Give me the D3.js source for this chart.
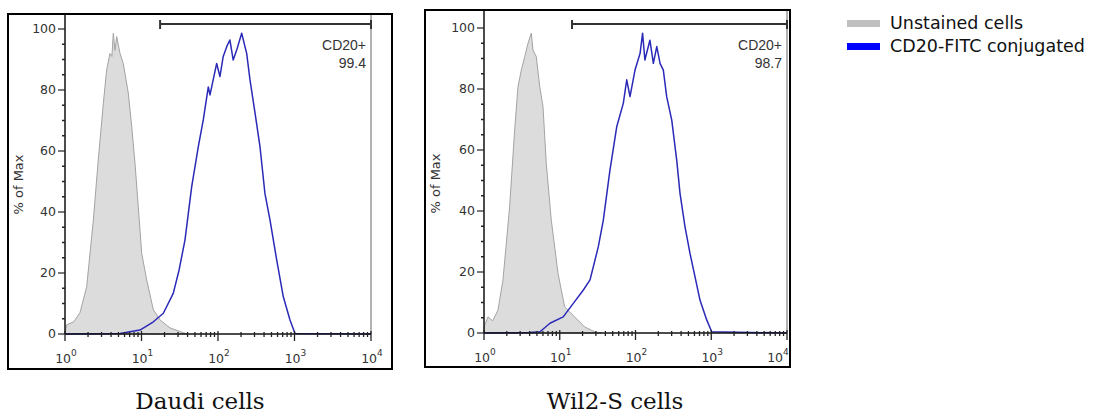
<!DOCTYPE html>
<html>
<head>
<meta charset="utf-8">
<script src="https://cdn.jsdelivr.net/npm/d3@7"></script>
<style>
  body { margin: 0; background: #fff; }
  svg { display: block; }
</style>
</head>
<body>
<div id="chart"></div>
<script>
// DATA (fluorescence intensity, % of max)
const daudiUnstained = [
  [1, 0], [1.05, 3], [1.3, 4], [1.57, 7], [1.92, 15.5], [2.34, 37], [2.72, 57], [3.17, 75.6],
  [3.5, 86.5], [3.87, 92], [4.1, 91], [4.28, 98.6], [4.5, 93], [4.74, 97.5], [5.24, 92],
  [5.78, 88.7], [6.72, 79], [7.45, 68], [8.22, 56], [9.08, 41.7], [10.06, 26.5],
  [11.7, 17.7], [14.3, 7.9], [17.5, 4.6], [23.6, 2], [31.9, 0.8], [40, 0]
];
const daudiCD20 = [
  [1, 0], [5.24, 0.2], [9.55, 1.3], [14.3, 4], [19.3, 6.8], [26, 13.3], [31, 21], [37, 30.8],
  [45.3, 48.3], [55.3, 61.4], [64.2, 70.2], [74.7, 81], [78.6, 78.4], [96.1, 88.7],
  [106, 84.4], [117, 91], [130, 94.2], [143, 96.4], [158, 89.8], [175, 93], [204, 98.6],
  [237, 92], [262, 83.3], [305, 72.4], [354, 61.4], [411, 46], [478, 37.4], [585, 24.3],
  [714, 12.2], [873, 4.6], [1016, 0.2], [10000, 0]
];
const wil2Unstained = [
  [1, 0], [1.02, 2.6], [1.13, 5.3], [1.3, 4], [1.53, 7.5], [1.78, 17.4], [2.18, 41.4],
  [2.54, 66.6], [2.81, 80.8], [3.11, 86.2], [3.45, 90.6], [3.81, 95], [4.21, 98.3],
  [4.43, 92.8], [4.9, 90.6], [5.44, 80.8], [6.01, 74.2], [6.64, 55.6], [7.73, 37],
  [9.48, 19.6], [11.6, 8.6], [15.7, 5.3], [21.3, 2], [28.9, 0.4], [35, 0]
];
const wil2CD20 = [
  [1, 0], [4, 0.2], [5.49, 0.4], [7.43, 3.2], [11.1, 5.3], [15.1, 9.7], [20.5, 14.1],
  [25.1, 17.4], [32.3, 28.3], [37.6, 37], [46, 53.4], [56.5, 67.6], [69, 75.3], [76.6, 83],
  [84.6, 77.5], [98.5, 86.2], [115, 91.7], [124, 98.3], [133, 89.5], [155, 96], [172, 88.4],
  [191, 93.9], [211, 88.4], [233, 86.2], [258, 77.5], [301, 69.8], [350, 56.7], [387, 45.8],
  [450, 34.9], [524, 26.1], [610, 18.5], [710, 10.8], [871, 4.3], [1014, 0.4], [10000, 0]
];

const panelTitles = ["Daudi cells", "Wil2-S cells"];
const gateNames = ["CD20+", "CD20+"];
const gateValues = ["99.4", "98.7"];
const gateStarts = [17.5, 14.5];
const xTickExps = [0, 1, 2, 3, 4];
const yTicks = [0, 20, 40, 60, 80, 100];
const legendLabels = ["Unstained cells", "CD20-FITC conjugated"];
const legendColors = ["#c0c0c0", "#0000ff"];

const unstainedSeries = [daudiUnstained, wil2Unstained];
const stainedSeries = [daudiCD20, wil2CD20];

// LAYOUT
const W = 1093, H = 413;
const layout = [
  { frame: [8, 14, 392, 369], left: 65, right: 371, top: 29, bottom: 334, titleX: 200 },
  { frame: [425, 10, 790, 367], left: 484, right: 787, top: 28, bottom: 333, titleX: 615 }
];

const svg = d3.select("#chart")
  .append("svg")
  .attr("width", W)
  .attr("height", H);

const tickFont = "DejaVu Sans, sans-serif";
const labelFont = "Liberation Sans, Arial, sans-serif";

layout.forEach((L, i) => {
  const g = svg.append("g");

  const x = d3.scaleLog()
    .domain([1, 10000])
    .range([L.left, L.right]);

  const y = d3.scaleLinear()
    .domain([0, 100])
    .range([L.bottom, L.top]);

  const [fx0, fy0, fx1, fy1] = L.frame;

  // right plot border (grey)
  g.append("line")
    .attr("x1", L.right).attr("x2", L.right)
    .attr("y1", fy0).attr("y2", L.bottom)
    .attr("stroke", "#999").attr("stroke-width", 1.5);

  // unstained (filled grey)
  g.append("path")
    .datum(unstainedSeries[i])
    .attr("fill", "#dcdcdc")
    .attr("stroke", "#a3a3a3")
    .attr("stroke-width", 1)
    .attr("d", d3.area()
      .x(d => x(d[0]))
      .y0(y(0))
      .y1(d => y(d[1]))
    );

  // stained (blue line)
  g.append("path")
    .datum(stainedSeries[i])
    .attr("fill", "none")
    .attr("stroke", "#2a2ab8")
    .attr("stroke-width", 1.5)
    .attr("stroke-linejoin", "round")
    .attr("d", d3.line()
      .x(d => x(d[0]))
      .y(d => y(d[1]))
    );

  // Y axis
  g.append("line")
    .attr("x1", L.left).attr("x2", L.left)
    .attr("y1", fy0).attr("y2", L.bottom)
    .attr("stroke", "#111").attr("stroke-width", 1.5);

  d3.range(5, 100, 5).filter(v => v % 20 !== 0).forEach(v => {
    g.append("line")
      .attr("x1", L.left - 3).attr("x2", L.left)
      .attr("y1", y(v)).attr("y2", y(v))
      .attr("stroke", "#222").attr("stroke-width", 1.5);
  });

  yTicks.forEach(v => {
    g.append("line")
      .attr("x1", L.left - 7).attr("x2", L.left)
      .attr("y1", y(v)).attr("y2", y(v))
      .attr("stroke", "#222").attr("stroke-width", 1.2);
    g.append("text")
      .attr("x", L.left - 9)
      .attr("y", y(v))
      .attr("dy", "0.35em")
      .attr("text-anchor", "end")
      .attr("font-family", tickFont)
      .attr("font-size", 12.5)
      .attr("fill", "#333")
      .text(v);
  });

  // Y label
  g.append("text")
    .attr("transform", `translate(${fx0 + 15},${(L.top + L.bottom) / 2 + 3}) rotate(-90)`)
    .attr("text-anchor", "middle")
    .attr("font-family", tickFont)
    .attr("font-size", 13)
    .attr("fill", "#333")
    .text("% of Max");

  // X axis
  g.append("line")
    .attr("x1", L.left).attr("x2", L.right)
    .attr("y1", L.bottom).attr("y2", L.bottom)
    .attr("stroke", "#111").attr("stroke-width", 1.6);

  xTickExps.slice(0, -1).forEach(e => {
    d3.range(2, 10).forEach(m => {
      const xv = x(m * Math.pow(10, e));
      g.append("line")
        .attr("x1", xv).attr("x2", xv)
        .attr("y1", L.bottom - 2).attr("y2", L.bottom + 3)
        .attr("stroke", "#222").attr("stroke-width", 1.3);
    });
  });

  xTickExps.forEach(e => {
    const xv = x(Math.pow(10, e));
    g.append("line")
      .attr("x1", xv).attr("x2", xv)
      .attr("y1", L.bottom - 3).attr("y2", L.bottom + 7)
      .attr("stroke", "#222").attr("stroke-width", 1.3);
    const t = g.append("text")
      .attr("x", Math.min(xv + 1, fx1 - 12))
      .attr("y", L.bottom + 29)
      .attr("text-anchor", "middle")
      .attr("font-family", tickFont)
      .attr("font-size", 12.5)
      .attr("fill", "#333");
    t.append("tspan").text("10");
    t.append("tspan")
      .attr("font-size", 9)
      .attr("dy", -7)
      .text(e);
  });

  // gate bar
  const gx0 = x(gateStarts[i]), gx1 = L.right, gy = 24;
  g.append("line")
    .attr("x1", gx0).attr("x2", gx1)
    .attr("y1", gy).attr("y2", gy)
    .attr("stroke", "#333").attr("stroke-width", 2);
  [gx0, gx1].forEach(xv => {
    g.append("line")
      .attr("x1", xv).attr("x2", xv)
      .attr("y1", gy - 4).attr("y2", gy + 5)
      .attr("stroke", "#333").attr("stroke-width", 2);
  });

  g.append("text")
    .attr("x", L.right - 5)
    .attr("y", 50)
    .attr("text-anchor", "end")
    .attr("font-family", labelFont)
    .attr("font-size", 14)
    .attr("fill", "#333")
    .text(gateNames[i]);
  g.append("text")
    .attr("x", L.right - 5)
    .attr("y", 68)
    .attr("text-anchor", "end")
    .attr("font-family", labelFont)
    .attr("font-size", 14)
    .attr("fill", "#333")
    .text(gateValues[i]);

  // outer frame
  g.append("rect")
    .attr("x", fx0).attr("y", fy0)
    .attr("width", fx1 - fx0).attr("height", fy1 - fy0)
    .attr("fill", "none")
    .attr("stroke", "#000")
    .attr("stroke-width", 2);

  // caption
  svg.append("text")
    .attr("x", L.titleX)
    .attr("y", 409)
    .attr("text-anchor", "middle")
    .attr("font-family", "DejaVu Serif, serif")
    .attr("font-size", 23)
    .attr("fill", "#111")
    .text(panelTitles[i]);
});

// LEGEND
const legend = svg.append("g");
legendLabels.forEach((lab, i) => {
  legend.append("rect")
    .attr("x", 847)
    .attr("y", 20 + i * 23)
    .attr("width", 33)
    .attr("height", 7)
    .attr("fill", legendColors[i]);
  legend.append("text")
    .attr("x", 890)
    .attr("y", 29 + i * 23)
    .attr("font-family", "DejaVu Sans, sans-serif")
    .attr("font-size", 17.5)
    .attr("fill", "#111")
    .text(lab);
});
</script>
</body>
</html>
